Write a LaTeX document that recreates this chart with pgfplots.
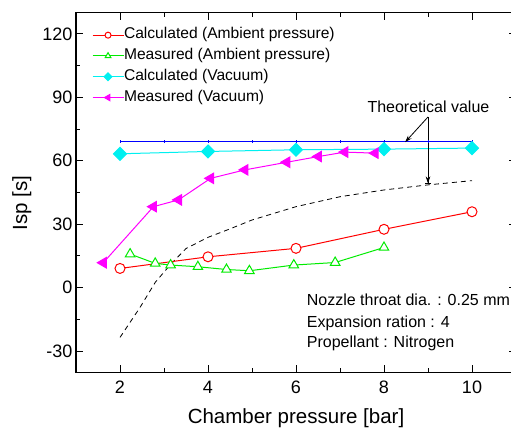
\documentclass[border=0pt]{standalone}
\usepackage{fontspec}
\setmainfont{Liberation Sans}
\usepackage{pgfplots}
\pgfplotsset{compat=1.18}
\usetikzlibrary{arrows.meta}
\definecolor{cRed}{RGB}{255,0,0}
\definecolor{cGreen}{RGB}{0,235,0}
\definecolor{cCyan}{RGB}{0,240,240}
\definecolor{cMag}{RGB}{255,0,255}
\definecolor{cBlue}{RGB}{0,0,255}
\begin{document}
\begin{tikzpicture}
\useasboundingbox (0,0) rectangle (511pt,434pt);
\begin{axis}[
  at={(76pt,61.7pt)}, anchor=south west,
  scale only axis, width=440pt, height=359.6pt,
  xmin=1, xmax=11, ymin=-40, ymax=130,
  xtick={2,4,6,8,10}, ytick={-30,0,30,60,90,120},
  minor x tick num=1, minor y tick num=1,
  tick align=inside, major tick length=7pt, minor tick length=4pt,
  axis line style={line width=1.2pt},
  every tick/.style={black, line width=1pt},
  tick label style={font=\fontsize{18}{20}\selectfont},
  /pgf/number format/assume math mode=true,
  xticklabel style={yshift=-5pt},
  xlabel={Chamber pressure [bar]}, ylabel={Isp [s]},
  label style={font=\fontsize{20.5}{24}\selectfont},
  xlabel style={at={(axis description cs:0.5,-0.141)}, anchor=base},
  ylabel style={at={(axis description cs:-0.123,0.471)}, anchor=center},
  legend style={at={(axis cs:1.36,122.9)}, anchor=north west, draw=none, fill=none,
    inner sep=0pt, font=\fontsize{15.6}{17}\selectfont, row sep=6.3pt,
    nodes={inner sep=0pt, text height=11pt, text depth=3.5pt}},
  legend cell align=left,
  legend image code/.code={\draw[mark repeat=2,mark phase=2,/tikz/every mark/.append style={scale=0.6}] plot coordinates {(0pt,0pt) (15.5pt,0pt) (31pt,0pt)};},
  /tikz/every even column/.append style={column sep=6pt},
]
\addplot[cBlue, line width=1pt, mark=|, mark size=1.5pt, forget plot] coordinates {
(2,69)(3,69)(4,69)(5,69)(6,69)(7,69)(8,69)(9,69)(10,69)};
\addplot[black, line width=0.8pt, dash pattern=on 5pt off 4pt, forget plot] coordinates {
(2,-23.5)(2.45,-9.5)(2.8,2.5)(3.15,11)(3.5,18.5)(4,23.8)(4.5,27.8)(5,32)(6,38.3)(7,43)(8,46.2)(9,48.6)(10,50.6)};
\addplot[cRed, line width=1pt, mark=*, mark size=5pt, mark options={fill=white, solid}] coordinates {
(2,9.1)(4,14.6)(6,18.6)(8,27.6)(10,35.9)};
\addlegendentry{Calculated (Ambient pressure)}
\addplot[cGreen, line width=1pt, mark=triangle*, mark size=5.5pt, mark options={fill=white, solid}] coordinates {
(2.23,15.9)(2.8,11.5)(3.15,10.7)(3.77,9.9)(4.42,8.6)(4.94,8.0)(5.95,10.7)(6.89,11.9)(8.0,19.0)};
\addlegendentry{Measured (Ambient pressure)}
\addplot[cCyan, line width=1pt, mark=square*, mark size=4.6pt, mark options={rotate=45, fill=cCyan, solid}] coordinates {
(2,63.3)(4,64.4)(6,65.2)(8,65.5)(10,66.0)};
\addlegendentry{Calculated (Vacuum)}
\addplot[cMag, line width=1pt, mark=triangle*, mark size=6pt, mark options={rotate=90, fill=cMag, solid}] coordinates {
(1.62,11.8)(2.76,38.3)(3.33,41.5)(4.06,51.7)(4.84,55.7)(5.79,59.3)(6.51,62.0)(7.11,64.1)(7.8,63.6)};
\addlegendentry{Measured (Vacuum)}
\node[anchor=base, font=\fontsize{16}{19}\selectfont, inner sep=0pt] at (axis cs:9.01,82.8) {Theoretical value};
\draw[line width=0.8pt, -{Stealth[length=7pt,width=4.5pt]}] (axis cs:9.0,80.7) -- (axis cs:8.48,68.8);
\draw[line width=0.8pt, -{Stealth[length=7pt,width=4.5pt] Bar[width=6pt]}] (axis cs:9.0,80.7) -- (axis cs:9.0,48.9);
\node[anchor=base west, font=\fontsize{16}{19}\selectfont, inner sep=0pt] at (axis cs:6.243,-8.5) {Nozzle throat dia. : 0.25 mm};
\node[anchor=base west, font=\fontsize{16}{19}\selectfont, inner sep=0pt] at (axis cs:6.243,-18.8) {Expansion ration : 4};
\node[anchor=base west, font=\fontsize{16}{19}\selectfont, inner sep=0pt] at (axis cs:6.243,-28.2) {Propellant : Nitrogen};
\end{axis}
\end{tikzpicture}
\end{document}
